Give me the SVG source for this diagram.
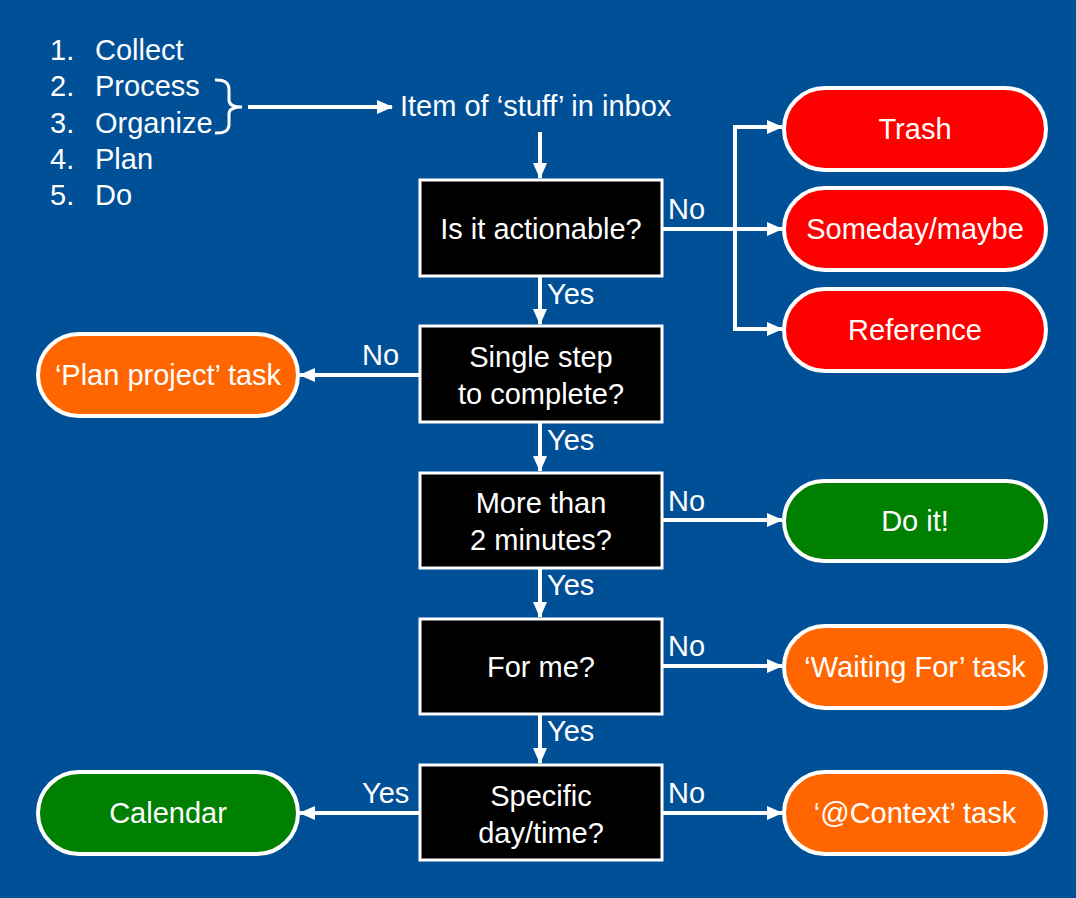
<svg xmlns="http://www.w3.org/2000/svg" width="1076" height="898" viewBox="0 0 1076 898">
<defs>
<marker id="ah" markerWidth="16" markerHeight="14" refX="15" refY="7" orient="auto" markerUnits="userSpaceOnUse" viewBox="0 0 16 14"><path d="M0,0 L16,7 L0,14 z" fill="#fff"/></marker>
<style>
text{font-family:"Liberation Sans",Arial,sans-serif;font-size:29px;fill:#fff}
.c{text-anchor:middle}
.box{fill:#000;stroke:#fff;stroke-width:3}
.pill{stroke:#fff;stroke-width:4}
.red{fill:#ff0000}.org{fill:#ff6600}.grn{fill:#008000}
.ln{stroke:#fff;stroke-width:4;fill:none}
.ar{stroke:#fff;stroke-width:4;fill:none;marker-end:url(#ah)}
</style>
</defs>
<rect width="1076" height="898" fill="#005098"/>
<g id="list">
<text x="50" y="60">1.</text><text x="95" y="60">Collect</text>
<text x="50" y="96">2.</text><text x="95" y="96">Process</text>
<text x="50" y="133">3.</text><text x="95" y="133">Organize</text>
<text x="50" y="169">4.</text><text x="95" y="169">Plan</text>
<text x="50" y="205">5.</text><text x="95" y="205">Do</text>
<path class="ln" style="stroke-width:3" d="M215,80 Q229,79 229,90 L229,100 Q229,107 242,107 Q229,107 229,114 L229,124 Q229,134 215,133"/>
</g>
<g id="inbox"><text x="400" y="116">Item of ‘stuff’ in inbox</text></g>
<g id="connectors">
<path class="ar" d="M248,107 L392,107"/>
<path class="ar" d="M540,132 L540,178"/>
<path class="ln" d="M662,229 L735,229"/>
<path class="ln" d="M735,127 L735,329"/>
<path class="ar" d="M733,127 L782,127"/>
<path class="ar" d="M735,229 L782,229"/>
<path class="ar" d="M733,329 L782,329"/>
<path class="ar" d="M540,276 L540,324"/>
<path class="ar" d="M420,375 L300,375"/>
<path class="ar" d="M540,422 L540,471"/>
<path class="ar" d="M662,520 L782,520"/>
<path class="ar" d="M540,568 L540,617"/>
<path class="ar" d="M662,666 L782,666"/>
<path class="ar" d="M540,714 L540,763"/>
<path class="ar" d="M420,813 L300,813"/>
<path class="ar" d="M662,813 L782,813"/>
<text x="668" y="219">No</text>
<text x="547" y="304">Yes</text>
<text x="362" y="365">No</text>
<text x="547" y="450">Yes</text>
<text x="668" y="511">No</text>
<text x="547" y="595">Yes</text>
<text x="668" y="656">No</text>
<text x="547" y="741">Yes</text>
<text x="362" y="803">Yes</text>
<text x="668" y="803">No</text>
</g>
<g id="q1"><rect class="box" x="420" y="180" width="242" height="96"/><text class="c" x="541" y="239">Is it actionable?</text></g>
<g id="q2"><rect class="box" x="420" y="326" width="242" height="96"/><text class="c" x="541" y="367">Single step</text><text class="c" x="541" y="404">to complete?</text></g>
<g id="q3"><rect class="box" x="420" y="473" width="242" height="95"/><text class="c" x="541" y="513">More than</text><text class="c" x="541" y="550">2 minutes?</text></g>
<g id="q4"><rect class="box" x="420" y="619" width="242" height="95"/><text class="c" x="541" y="677">For me?</text></g>
<g id="q5"><rect class="box" x="420" y="765" width="242" height="95"/><text class="c" x="541" y="806">Specific</text><text class="c" x="541" y="843">day/time?</text></g>
<g id="trash"><rect class="pill red" x="784" y="88" width="262" height="82" rx="41"/><text class="c" x="915" y="139">Trash</text></g>
<g id="someday"><rect class="pill red" x="784" y="188" width="262" height="82" rx="41"/><text class="c" x="915" y="239">Someday/maybe</text></g>
<g id="reference"><rect class="pill red" x="784" y="289" width="262" height="82" rx="41"/><text class="c" x="915" y="340">Reference</text></g>
<g id="plan"><rect class="pill org" x="38" y="334" width="260" height="82" rx="41"/><text class="c" x="168" y="385">‘Plan project’ task</text></g>
<g id="doit"><rect class="pill grn" x="784" y="481" width="262" height="80" rx="40"/><text class="c" x="915" y="531">Do it!</text></g>
<g id="waiting"><rect class="pill org" x="784" y="626" width="262" height="82" rx="41"/><text class="c" x="915" y="677">‘Waiting For’ task</text></g>
<g id="calendar"><rect class="pill grn" x="38" y="772" width="260" height="82" rx="41"/><text class="c" x="168" y="823">Calendar</text></g>
<g id="context"><rect class="pill org" x="784" y="772" width="262" height="82" rx="41"/><text class="c" x="915" y="823">‘@Context’ task</text></g>
</svg>
